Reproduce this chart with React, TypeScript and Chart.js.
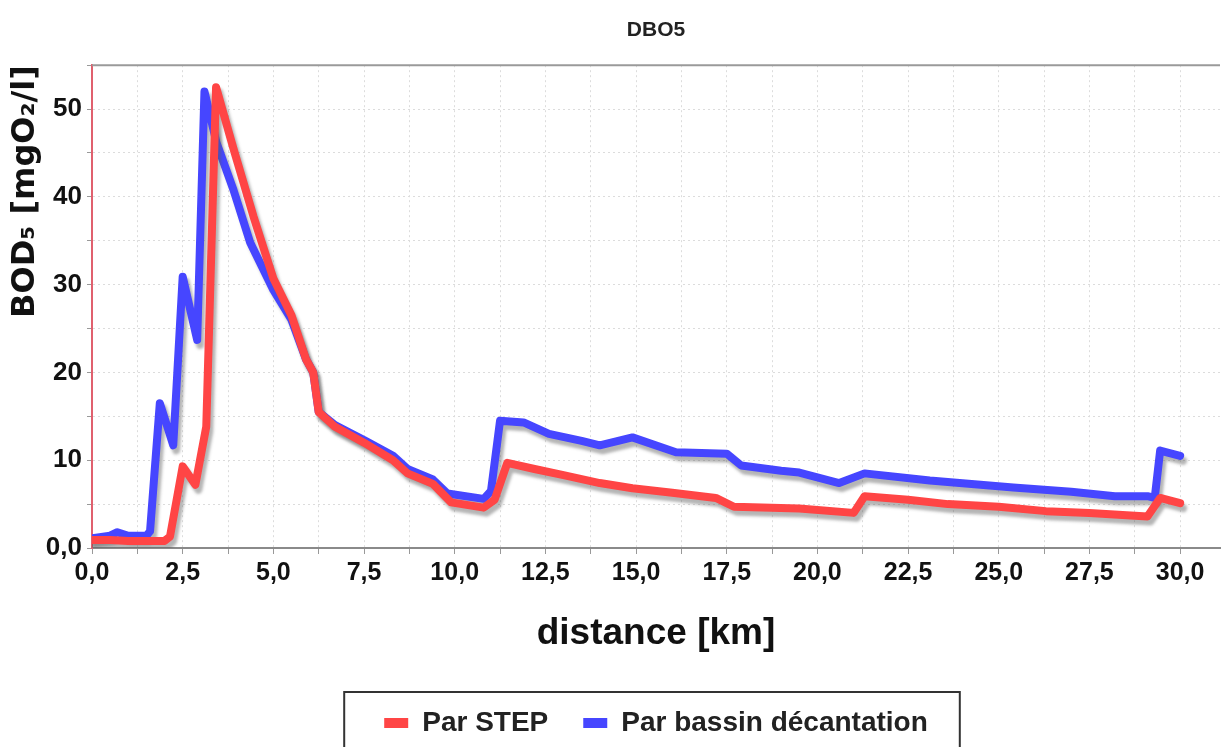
import React, { useEffect, useRef } from "react";
import { Chart, registerables } from "chart.js";

Chart.register(...registerables);

const chartTitle = "DBO5";
const xTitle = "distance [km]";
const yTitle = "BOD₅ [mgO₂/l]";
const seriesNames = ["Par STEP", "Par bassin décantation"];
const seriesColors = ["#ff4545", "#4646ff"];

const stepKm = [0.0, 0.5, 1.0, 1.5, 2.0, 2.15, 2.5, 2.85, 3.15, 3.42, 3.9, 4.45, 5.0, 5.5, 5.9, 6.1, 6.25, 6.7, 7.5, 8.3, 8.7, 9.4, 9.9, 10.8, 11.1, 11.45, 12.2, 13.0, 14.0, 14.9, 16.0, 17.2, 17.7, 19.5, 21.0, 21.3, 22.5, 23.6, 25.0, 26.3, 27.5, 29.1, 29.45, 30.0];
const stepBod = [0.9, 0.9, 0.8, 0.8, 0.8, 1.3, 9.3, 7.2, 13.8, 52.5, 45.5, 37.8, 30.7, 26.5, 21.5, 20.0, 15.5, 13.8, 12.0, 10.0, 8.5, 7.3, 5.2, 4.6, 5.5, 9.7, 9.0, 8.3, 7.4, 6.8, 6.3, 5.7, 4.7, 4.5, 4.0, 5.9, 5.5, 5.0, 4.7, 4.2, 4.0, 3.6, 5.7, 5.1];

const bassinKm = [0.0, 0.5, 0.7, 1.0, 1.5, 1.6, 1.87, 2.24, 2.5, 2.9, 3.1, 3.43, 3.9, 4.36, 5.0, 5.5, 5.9, 6.1, 6.25, 6.7, 7.5, 8.3, 8.7, 9.4, 9.8, 10.8, 11.0, 11.25, 11.9, 12.6, 13.5, 14.0, 14.9, 16.1, 17.5, 17.9, 19.0, 19.5, 20.6, 21.3, 23.1, 25.4, 27.0, 28.2, 29.1, 29.3, 29.45, 30.0];
const bassinBod = [1.1, 1.4, 1.8, 1.4, 1.4, 1.9, 16.5, 11.7, 30.9, 23.7, 52.0, 46.2, 40.8, 34.8, 29.4, 26.0, 21.5, 20.0, 15.5, 14.0, 12.3, 10.5, 9.0, 7.8, 6.2, 5.6, 6.5, 14.5, 14.3, 13.0, 12.2, 11.7, 12.6, 10.9, 10.75, 9.4, 8.8, 8.6, 7.4, 8.5, 7.7, 6.9, 6.4, 5.9, 5.9, 5.7, 11.1, 10.5];

const xMin = 0;
const xMax = 31.1;
const xStep = 1.25;
const xLabelStep = 2.5;
const xLastLabel = 30;
const yMin = 0;
const yMax = 55;
const yStep = 5;
const yLabelStep = 10;

const sans = "'Liberation Sans', Arial, sans-serif";

const shadowPlugin = {
  id: "lineShadow",
  beforeDatasetsDraw(chart: any) {
    const ctx = chart.ctx;
    ctx.save();
    ctx.shadowColor = "rgba(90,90,90,0.45)";
    ctx.shadowOffsetX = 3;
    ctx.shadowOffsetY = 5;
    ctx.shadowBlur = 3;
  },
  afterDatasetsDraw(chart: any) {
    chart.ctx.restore();
  },
};

const framePlugin = {
  id: "frame",
  afterDraw(chart: any) {
    const ctx = chart.ctx;
    const a = chart.chartArea;
    ctx.save();
    ctx.strokeStyle = "#9a9a9a";
    ctx.lineWidth = 2;
    ctx.beginPath();
    ctx.moveTo(a.left, a.top);
    ctx.lineTo(a.right, a.top);
    ctx.stroke();
    const lg = chart.legend;
    if (lg && lg.legendHitBoxes && lg.legendHitBoxes.length) {
      const boxes = lg.legendHitBoxes;
      const minX = Math.min(...boxes.map((b: any) => b.left)) - 40;
      const maxX = Math.max(...boxes.map((b: any) => b.left + b.width)) + 32;
      const top = lg.top + 18;
      ctx.strokeStyle = "#333";
      ctx.lineWidth = 2;
      ctx.strokeRect(minX, top, maxX - minX, chart.height + 20 - top);
    }
    ctx.restore();
  },
};

export default function App() {
  const ref = useRef<HTMLCanvasElement | null>(null);

  useEffect(() => {
    if (!ref.current) return;
    const mk = (xs: number[], ys: number[]) => xs.map((x, i) => ({ x, y: ys[i] }));
    const chart = new Chart(ref.current, {
      type: "line",
      data: {
        datasets: [
          {
            label: seriesNames[0],
            data: mk(stepKm, stepBod),
            borderColor: seriesColors[0],
            backgroundColor: seriesColors[0],
            borderWidth: 8,
            pointRadius: 0,
            tension: 0,
            borderJoinStyle: "round",
            borderCapStyle: "round",
          },
          {
            label: seriesNames[1],
            data: mk(bassinKm, bassinBod),
            borderColor: seriesColors[1],
            backgroundColor: seriesColors[1],
            borderWidth: 8,
            pointRadius: 0,
            tension: 0,
            borderJoinStyle: "round",
            borderCapStyle: "round",
          },
        ],
      },
      options: {
        animation: false,
        responsive: true,
        maintainAspectRatio: false,
        layout: { padding: { left: 0, right: 7, top: 0, bottom: 0 } },
        plugins: {
          title: {
            display: true,
            text: chartTitle,
            fullSize: false,
            color: "#222",
            font: { family: sans, size: 21, weight: "bold" },
            padding: { top: 18, bottom: 22 },
          },
          legend: {
            display: true,
            position: "bottom",
            fullSize: false,
            labels: {
              color: "#222",
              font: { family: sans, size: 28, weight: "bold" },
              boxWidth: 24,
              boxHeight: 10,
              padding: 35,
              generateLabels: (c: any) =>
                Chart.defaults.plugins.legend.labels.generateLabels(c).map((l: any, i: number) => ({
                  ...l,
                  fillStyle: seriesColors[i],
                  strokeStyle: seriesColors[i],
                  lineWidth: 0,
                })),
            },
          },
          tooltip: { enabled: false },
        },
        scales: {
          x: {
            type: "linear",
            min: xMin,
            max: xMax,
            afterFit: (s: any) => {
              s.height = 126;
            },
            ticks: {
              stepSize: xStep,
              includeBounds: false,
              autoSkip: false,
              maxRotation: 0,
              color: "#111",
              padding: 4,
              font: { family: sans, size: 25, weight: "bold" },
              callback: (v: any) => {
                const n = Number(v);
                const r = n / xLabelStep;
                if (Math.abs(r - Math.round(r)) < 1e-6 && n <= xLastLabel + 0.001) return n.toFixed(1).replace(".", ",");
                return "";
              },
            },
            grid: { color: "#dcdcdc", tickColor: "#999", tickLength: 6, lineWidth: 1 },
            border: { color: "#8a8a8a", width: 2, dash: [2, 3] },
            title: {
              display: true,
              text: xTitle,
              color: "#111",
              font: { family: sans, size: 37, weight: "bold" },
              padding: { top: 0, bottom: 18 },
            },
          },
          y: {
            type: "linear",
            min: yMin,
            max: yMax,
            afterFit: (s: any) => {
              s.width = 92;
            },
            ticks: {
              stepSize: yStep,
              autoSkip: false,
              color: "#111",
              padding: 5,
              font: { family: sans, size: 26, weight: "bold" },
              callback: (v: any) => {
                const n = Number(v);
                if (n === 0) return "0,0";
                if (n % yLabelStep === 0) return String(n);
                return "";
              },
            },
            grid: { color: "#dcdcdc", tickColor: "#999", tickLength: 5, lineWidth: 1 },
            border: { color: "#e0606e", width: 2, dash: [2, 3] },
            title: {
              display: true,
              text: yTitle,
              align: "end",
              color: "#111",
              font: { family: "'DejaVu Sans', sans-serif", size: 32, weight: "bold" },
              padding: { top: 6, bottom: 0 },
            },
          },
        },
      },
      plugins: [shadowPlugin, framePlugin],
    } as any);
    return () => chart.destroy();
  }, []);

  return (
    <div style={{ position: "fixed", left: 0, top: 0, width: 1227, height: 747, background: "#fff" }}>
      <canvas ref={ref} />
    </div>
  );
}
